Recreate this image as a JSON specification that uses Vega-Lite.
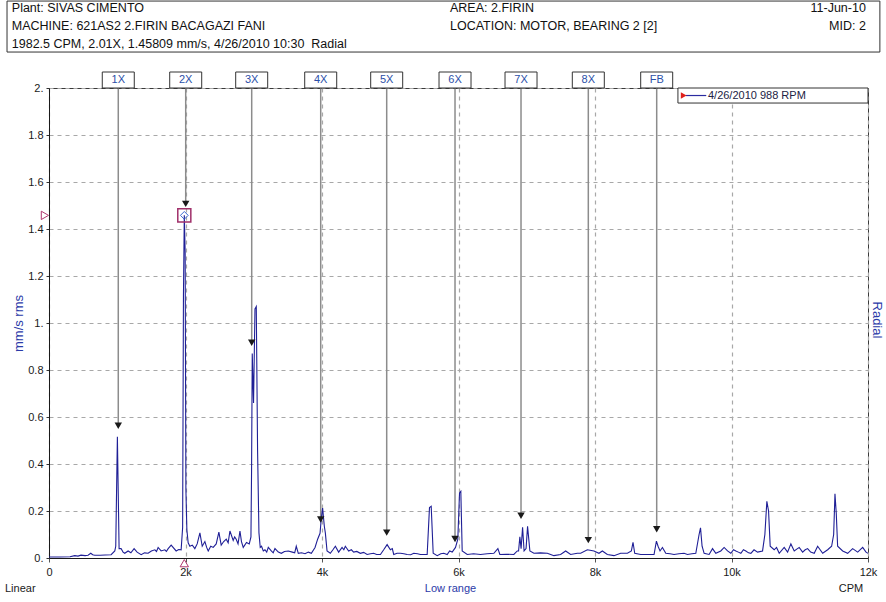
{
  "$schema": "https://vega.github.io/schema/vega-lite/v6.json",
  "width": 819,
  "height": 470,
  "autosize": {"type": "none"},
  "padding": {"left": 49, "top": 88, "right": 18, "bottom": 44},
  "background": "white",
  "config": {
    "view": {"stroke": "#3a3a3a", "strokeWidth": 1},
    "font": "Liberation Sans",
    "axis": {"labelFont": "Liberation Sans", "titleFont": "Liberation Sans", "labelFontSize": 11, "labelColor": "#1a1a1a", "titleFontWeight": "normal", "labelFlush": false}
  },
  "datasets": {
    "spectrum": [
      {"cpm":0,"amp":0.004},{"cpm":161,"amp":0.004},{"cpm":308,"amp":0.005},{"cpm":377,"amp":0.01},{"cpm":425,"amp":0.008},{"cpm":469,"amp":0.012},{"cpm":528,"amp":0.01},{"cpm":572,"amp":0.012},{"cpm":612,"amp":0.02},{"cpm":640,"amp":0.014},{"cpm":670,"amp":0.012},{"cpm":748,"amp":0.012},{"cpm":822,"amp":0.013},{"cpm":910,"amp":0.014},{"cpm":964,"amp":0.03},{"cpm":978,"amp":0.05},{"cpm":1002,"amp":0.516},{"cpm":1027,"amp":0.04},{"cpm":1056,"amp":0.04},{"cpm":1085,"amp":0.025},{"cpm":1110,"amp":0.02},{"cpm":1159,"amp":0.03},{"cpm":1200,"amp":0.022},{"cpm":1247,"amp":0.04},{"cpm":1291,"amp":0.025},{"cpm":1350,"amp":0.014},{"cpm":1400,"amp":0.022},{"cpm":1452,"amp":0.02},{"cpm":1500,"amp":0.03},{"cpm":1551,"amp":0.035},{"cpm":1575,"amp":0.028},{"cpm":1599,"amp":0.045},{"cpm":1643,"amp":0.03},{"cpm":1697,"amp":0.035},{"cpm":1720,"amp":0.028},{"cpm":1746,"amp":0.04},{"cpm":1790,"amp":0.055},{"cpm":1863,"amp":0.03},{"cpm":1900,"amp":0.036},{"cpm":1936,"amp":0.035},{"cpm":1958,"amp":0.13},{"cpm":1970,"amp":1.12},{"cpm":1982.5,"amp":1.458},{"cpm":1995,"amp":1.3},{"cpm":2006,"amp":0.29},{"cpm":2020,"amp":0.12},{"cpm":2039,"amp":0.065},{"cpm":2064,"amp":0.05},{"cpm":2100,"amp":0.055},{"cpm":2137,"amp":0.04},{"cpm":2171,"amp":0.06},{"cpm":2211,"amp":0.107},{"cpm":2245,"amp":0.05},{"cpm":2284,"amp":0.07},{"cpm":2310,"amp":0.045},{"cpm":2333,"amp":0.03},{"cpm":2370,"amp":0.05},{"cpm":2406,"amp":0.045},{"cpm":2450,"amp":0.06},{"cpm":2489,"amp":0.11},{"cpm":2523,"amp":0.055},{"cpm":2560,"amp":0.07},{"cpm":2597,"amp":0.08},{"cpm":2625,"amp":0.065},{"cpm":2651,"amp":0.115},{"cpm":2699,"amp":0.075},{"cpm":2720,"amp":0.09},{"cpm":2743,"amp":0.08},{"cpm":2770,"amp":0.06},{"cpm":2798,"amp":0.115},{"cpm":2820,"amp":0.07},{"cpm":2846,"amp":0.045},{"cpm":2894,"amp":0.066},{"cpm":2934,"amp":0.06},{"cpm":2959,"amp":0.09},{"cpm":2968,"amp":0.37},{"cpm":2978,"amp":0.87},{"cpm":2997,"amp":0.66},{"cpm":3018,"amp":1.06},{"cpm":3037,"amp":1.07},{"cpm":3056,"amp":0.46},{"cpm":3076,"amp":0.108},{"cpm":3095,"amp":0.045},{"cpm":3114,"amp":0.05},{"cpm":3140,"amp":0.03},{"cpm":3164,"amp":0.035},{"cpm":3190,"amp":0.025},{"cpm":3213,"amp":0.045},{"cpm":3257,"amp":0.03},{"cpm":3285,"amp":0.022},{"cpm":3311,"amp":0.04},{"cpm":3360,"amp":0.025},{"cpm":3404,"amp":0.02},{"cpm":3450,"amp":0.028},{"cpm":3506,"amp":0.03},{"cpm":3565,"amp":0.025},{"cpm":3600,"amp":0.022},{"cpm":3623,"amp":0.05},{"cpm":3653,"amp":0.02},{"cpm":3700,"amp":0.022},{"cpm":3751,"amp":0.018},{"cpm":3800,"amp":0.025},{"cpm":3844,"amp":0.02},{"cpm":3898,"amp":0.045},{"cpm":3936,"amp":0.08},{"cpm":3971,"amp":0.105},{"cpm":3990,"amp":0.17},{"cpm":4009,"amp":0.213},{"cpm":4034,"amp":0.135},{"cpm":4049,"amp":0.107},{"cpm":4074,"amp":0.03},{"cpm":4122,"amp":0.02},{"cpm":4160,"amp":0.035},{"cpm":4196,"amp":0.05},{"cpm":4244,"amp":0.025},{"cpm":4294,"amp":0.045},{"cpm":4320,"amp":0.035},{"cpm":4342,"amp":0.05},{"cpm":4391,"amp":0.03},{"cpm":4430,"amp":0.035},{"cpm":4464,"amp":0.025},{"cpm":4510,"amp":0.028},{"cpm":4562,"amp":0.02},{"cpm":4610,"amp":0.024},{"cpm":4661,"amp":0.015},{"cpm":4710,"amp":0.018},{"cpm":4757,"amp":0.02},{"cpm":4800,"amp":0.015},{"cpm":4856,"amp":0.015},{"cpm":4904,"amp":0.035},{"cpm":4954,"amp":0.057},{"cpm":5002,"amp":0.035},{"cpm":5030,"amp":0.04},{"cpm":5051,"amp":0.015},{"cpm":5100,"amp":0.02},{"cpm":5149,"amp":0.02},{"cpm":5200,"amp":0.018},{"cpm":5247,"amp":0.015},{"cpm":5300,"amp":0.014},{"cpm":5344,"amp":0.02},{"cpm":5400,"amp":0.018},{"cpm":5442,"amp":0.015},{"cpm":5541,"amp":0.015},{"cpm":5575,"amp":0.215},{"cpm":5600,"amp":0.22},{"cpm":5629,"amp":0.02},{"cpm":5688,"amp":0.01},{"cpm":5740,"amp":0.018},{"cpm":5784,"amp":0.02},{"cpm":5834,"amp":0.015},{"cpm":5870,"amp":0.03},{"cpm":5908,"amp":0.025},{"cpm":5956,"amp":0.045},{"cpm":5990,"amp":0.08},{"cpm":6015,"amp":0.277},{"cpm":6034,"amp":0.284},{"cpm":6054,"amp":0.03},{"cpm":6128,"amp":0.015},{"cpm":6220,"amp":0.018},{"cpm":6323,"amp":0.015},{"cpm":6420,"amp":0.018},{"cpm":6518,"amp":0.02},{"cpm":6577,"amp":0.04},{"cpm":6606,"amp":0.015},{"cpm":6700,"amp":0.016},{"cpm":6811,"amp":0.015},{"cpm":6861,"amp":0.03},{"cpm":6880,"amp":0.03},{"cpm":6899,"amp":0.09},{"cpm":6917,"amp":0.04},{"cpm":6939,"amp":0.131},{"cpm":6961,"amp":0.03},{"cpm":6990,"amp":0.04},{"cpm":7012,"amp":0.135},{"cpm":7046,"amp":0.03},{"cpm":7105,"amp":0.02},{"cpm":7200,"amp":0.022},{"cpm":7301,"amp":0.02},{"cpm":7350,"amp":0.015},{"cpm":7398,"amp":0.01},{"cpm":7496,"amp":0.015},{"cpm":7570,"amp":0.03},{"cpm":7643,"amp":0.015},{"cpm":7741,"amp":0.02},{"cpm":7790,"amp":0.02},{"cpm":7888,"amp":0.035},{"cpm":7985,"amp":0.03},{"cpm":8058,"amp":0.02},{"cpm":8108,"amp":0.03},{"cpm":8181,"amp":0.015},{"cpm":8278,"amp":0.01},{"cpm":8376,"amp":0.02},{"cpm":8475,"amp":0.02},{"cpm":8533,"amp":0.03},{"cpm":8557,"amp":0.067},{"cpm":8582,"amp":0.02},{"cpm":8670,"amp":0.015},{"cpm":8768,"amp":0.015},{"cpm":8865,"amp":0.015},{"cpm":8900,"amp":0.072},{"cpm":8924,"amp":0.05},{"cpm":8953,"amp":0.03},{"cpm":8988,"amp":0.045},{"cpm":9037,"amp":0.02},{"cpm":9100,"amp":0.018},{"cpm":9158,"amp":0.015},{"cpm":9230,"amp":0.018},{"cpm":9305,"amp":0.02},{"cpm":9355,"amp":0.015},{"cpm":9420,"amp":0.018},{"cpm":9477,"amp":0.02},{"cpm":9525,"amp":0.1},{"cpm":9546,"amp":0.128},{"cpm":9569,"amp":0.05},{"cpm":9599,"amp":0.02},{"cpm":9672,"amp":0.015},{"cpm":9722,"amp":0.04},{"cpm":9770,"amp":0.02},{"cpm":9843,"amp":0.03},{"cpm":9892,"amp":0.045},{"cpm":9942,"amp":0.03},{"cpm":9990,"amp":0.02},{"cpm":10030,"amp":0.035},{"cpm":10064,"amp":0.03},{"cpm":10100,"amp":0.025},{"cpm":10137,"amp":0.02},{"cpm":10175,"amp":0.035},{"cpm":10210,"amp":0.03},{"cpm":10250,"amp":0.022},{"cpm":10284,"amp":0.02},{"cpm":10330,"amp":0.035},{"cpm":10382,"amp":0.025},{"cpm":10455,"amp":0.03},{"cpm":10489,"amp":0.1},{"cpm":10518,"amp":0.241},{"cpm":10543,"amp":0.2},{"cpm":10567,"amp":0.05},{"cpm":10625,"amp":0.035},{"cpm":10660,"amp":0.045},{"cpm":10699,"amp":0.02},{"cpm":10772,"amp":0.045},{"cpm":10822,"amp":0.025},{"cpm":10870,"amp":0.06},{"cpm":10919,"amp":0.03},{"cpm":10992,"amp":0.045},{"cpm":11042,"amp":0.025},{"cpm":11080,"amp":0.035},{"cpm":11115,"amp":0.04},{"cpm":11160,"amp":0.025},{"cpm":11212,"amp":0.02},{"cpm":11262,"amp":0.05},{"cpm":11336,"amp":0.02},{"cpm":11409,"amp":0.035},{"cpm":11467,"amp":0.05},{"cpm":11497,"amp":0.1},{"cpm":11516,"amp":0.273},{"cpm":11535,"amp":0.19},{"cpm":11555,"amp":0.05},{"cpm":11629,"amp":0.03},{"cpm":11702,"amp":0.02},{"cpm":11775,"amp":0.04},{"cpm":11849,"amp":0.025},{"cpm":11922,"amp":0.045},{"cpm":11971,"amp":0.025},{"cpm":12000,"amp":0.02}
    ],
    "harmonics": [
      {"label":"1X","cpm":1015,"level":0.563},
      {"label":"2X","cpm":2003,"level":1.507},
      {"label":"3X","cpm":2970,"level":0.916},
      {"label":"4X","cpm":3981,"level":0.164},
      {"label":"5X","cpm":4948,"level":0.108},
      {"label":"6X","cpm":5949,"level":0.081},
      {"label":"7X","cpm":6916,"level":0.18},
      {"label":"8X","cpm":7902,"level":0.076},
      {"label":"FB","cpm":8904,"level":0.122}
    ],
    "header": [
      {"t": "Plant: SIVAS CIMENTO|MACHINE: 621AS2 2.FIRIN BACAGAZI FANI|1982.5 CPM, 2.01X, 1.45809 mm/s, 4/26/2010 10:30 \u00a0Radial", "u": "AREA: 2.FIRIN|LOCATION: MOTOR, BEARING 2 [2]", "v": "11-Jun-10|MID: 2", "leg": "4/26/2010 988 RPM", "lin": "Linear", "unit": "CPM", "dir": "Radial"}
    ]
  },
  "layer": [
    {
      "data": {"name": "harmonics"},
      "mark": {"type": "rule", "color": "#8c8c8c", "strokeWidth": 1.5},
      "encoding": {
        "x": {"field": "cpm", "type": "quantitative"},
        "y": {"field": "level", "type": "quantitative"},
        "y2": {"datum": 2}
      }
    },
    {
      "data": {"name": "spectrum"},
      "mark": {"type": "line", "color": "#1f1f96", "strokeWidth": 1.1, "clip": true},
      "encoding": {
        "x": {"field": "cpm", "type": "quantitative", "scale": {"domain": [0, 12000], "nice": false},
          "axis": {"title": "Low range", "titleColor": "#2b3aa8", "titleFontSize": 11, "titlePadding": 5, "titleX": 401,
            "values": [0, 2000, 4000, 6000, 8000, 10000, 12000],
            "labelExpr": "datum.value == 0 ? '0' : (datum.value / 1000) + 'k'",
            "grid": true, "gridDash": [4, 4], "gridColor": "#a8a8a8", "gridWidth": 1.2,
            "domainColor": "#1a1a1a", "tickColor": "#555555", "tickSize": 4, "labelPadding": 4}},
        "y": {"field": "amp", "type": "quantitative", "scale": {"domain": [0, 2], "nice": false},
          "axis": {"title": "mm/s rms", "titleColor": "#2b3aa8", "titleFontSize": 13, "titlePadding": 2,
            "values": [0, 0.2, 0.4, 0.6, 0.8, 1, 1.2, 1.4, 1.6, 1.8, 2],
            "labelExpr": "abs(datum.value - round(datum.value)) < 0.000001 ? round(datum.value) + '.' : format(datum.value, '.1f')",
            "grid": true, "gridDash": [4, 4], "gridColor": "#a8a8a8", "gridWidth": 1.2,
            "domainColor": "#1a1a1a", "tickColor": "#333333", "tickSize": 3, "labelPadding": 3}}
      }
    },
    {
      "data": {"name": "harmonics"},
      "mark": {"type": "point", "shape": "triangle-down", "filled": true, "color": "#1a1a1a", "size": 55, "opacity": 1},
      "encoding": {
        "x": {"field": "cpm", "type": "quantitative"},
        "y": {"field": "level", "type": "quantitative"}
      }
    },
    {
      "data": {"name": "harmonics"},
      "mark": {"type": "point", "shape": "M-1,-0.5H1V0.5H-1Z", "size": 1024, "filled": true, "fill": "white", "stroke": "#333333", "strokeWidth": 1, "opacity": 1},
      "encoding": {
        "x": {"field": "cpm", "type": "quantitative"},
        "y": {"datum": 2.034, "type": "quantitative"}
      }
    },
    {
      "data": {"name": "harmonics"},
      "mark": {"type": "text", "color": "#2b4fa8", "fontSize": 11, "baseline": "middle", "align": "center"},
      "encoding": {
        "x": {"field": "cpm", "type": "quantitative"},
        "y": {"datum": 2.034, "type": "quantitative"},
        "text": {"field": "label", "type": "nominal"}
      }
    },
    {
      "data": {"name": "header"},
      "mark": {"type": "point", "shape": "square", "size": 170, "filled": false, "stroke": "#a0306a", "strokeWidth": 1.5, "opacity": 1},
      "encoding": {"x": {"datum": 1982.5, "type": "quantitative"}, "y": {"datum": 1.458, "type": "quantitative"}}
    },
    {
      "data": {"name": "header"},
      "mark": {"type": "point", "shape": "diamond", "size": 60, "filled": false, "stroke": "#3a6ad0", "strokeWidth": 1, "opacity": 1},
      "encoding": {"x": {"datum": 1982.5, "type": "quantitative"}, "y": {"datum": 1.458, "type": "quantitative"}}
    },
    {
      "data": {"name": "header"},
      "mark": {"type": "point", "shape": "triangle-right", "size": 70, "filled": true, "fill": "white", "stroke": "#b03870", "strokeWidth": 1, "opacity": 1},
      "encoding": {"x": {"datum": -60, "type": "quantitative"}, "y": {"datum": 1.458, "type": "quantitative"}}
    },
    {
      "data": {"name": "header"},
      "mark": {"type": "point", "shape": "triangle-up", "size": 70, "filled": true, "fill": "white", "stroke": "#b03870", "strokeWidth": 1, "opacity": 1},
      "encoding": {"x": {"datum": 1982.5, "type": "quantitative"}, "y": {"datum": -0.022, "type": "quantitative"}}
    },
    {
      "data": {"name": "header"},
      "mark": {"type": "rect", "fill": "white", "stroke": "#333333", "strokeWidth": 1},
      "encoding": {"x": {"datum": 9215, "type": "quantitative"}, "x2": {"datum": 12000}, "y": {"datum": 2, "type": "quantitative"}, "y2": {"datum": 1.936}}
    },
    {
      "data": {"name": "header"},
      "mark": {"type": "rule", "color": "#2b2ba0", "strokeWidth": 1.2},
      "encoding": {"x": {"datum": 9330, "type": "quantitative"}, "x2": {"datum": 9630}, "y": {"datum": 1.968, "type": "quantitative"}}
    },
    {
      "data": {"name": "header"},
      "mark": {"type": "point", "shape": "triangle-right", "size": 45, "filled": true, "color": "#e0201c", "opacity": 1},
      "encoding": {"x": {"datum": 9300, "type": "quantitative"}, "y": {"datum": 1.968, "type": "quantitative"}}
    },
    {
      "data": {"name": "header"},
      "mark": {"type": "text", "color": "#222244", "fontSize": 11, "align": "left", "baseline": "middle"},
      "encoding": {"x": {"datum": 9655, "type": "quantitative"}, "y": {"datum": 1.968, "type": "quantitative"}, "text": {"field": "leg", "type": "nominal"}}
    },
    {
      "data": {"name": "header"},
      "mark": {"type": "rect", "fill": "white", "stroke": "#333333", "strokeWidth": 1},
      "encoding": {"x": {"datum": -615, "type": "quantitative"}, "x2": {"datum": 12174}, "y": {"datum": 2.37, "type": "quantitative"}, "y2": {"datum": 2.153}}
    },
    {
      "data": {"name": "header"},
      "mark": {"type": "text", "color": "#111111", "fontSize": 12.5, "align": "left", "baseline": "top", "lineBreak": "|", "lineHeight": 18},
      "encoding": {"x": {"datum": -545, "type": "quantitative"}, "y": {"datum": 2.366, "type": "quantitative"}, "text": {"field": "t", "type": "nominal"}}
    },
    {
      "data": {"name": "header"},
      "mark": {"type": "text", "color": "#111111", "fontSize": 12.5, "align": "left", "baseline": "top", "lineBreak": "|", "lineHeight": 18},
      "encoding": {"x": {"datum": 5875, "type": "quantitative"}, "y": {"datum": 2.366, "type": "quantitative"}, "text": {"field": "u", "type": "nominal"}}
    },
    {
      "data": {"name": "header"},
      "mark": {"type": "text", "color": "#111111", "fontSize": 12.5, "align": "right", "baseline": "top", "lineBreak": "|", "lineHeight": 18},
      "encoding": {"x": {"datum": 11969, "type": "quantitative"}, "y": {"datum": 2.366, "type": "quantitative"}, "text": {"field": "v", "type": "nominal"}}
    },
    {
      "data": {"name": "header"},
      "mark": {"type": "text", "color": "#1a1a1a", "fontSize": 11, "align": "left", "baseline": "middle"},
      "encoding": {"x": {"datum": -645, "type": "quantitative"}, "y": {"datum": -0.134, "type": "quantitative"}, "text": {"field": "lin", "type": "nominal"}}
    },
    {
      "data": {"name": "header"},
      "mark": {"type": "text", "color": "#1a1a1a", "fontSize": 11, "align": "center", "baseline": "middle"},
      "encoding": {"x": {"datum": 11750, "type": "quantitative"}, "y": {"datum": -0.134, "type": "quantitative"}, "text": {"field": "unit", "type": "nominal"}}
    },
    {
      "data": {"name": "header"},
      "mark": {"type": "text", "color": "#2b3aa8", "fontSize": 13, "align": "center", "baseline": "middle", "angle": 90},
      "encoding": {"x": {"datum": 12130, "type": "quantitative"}, "y": {"datum": 1.013, "type": "quantitative"}, "text": {"field": "dir", "type": "nominal"}}
    }
  ]
}
